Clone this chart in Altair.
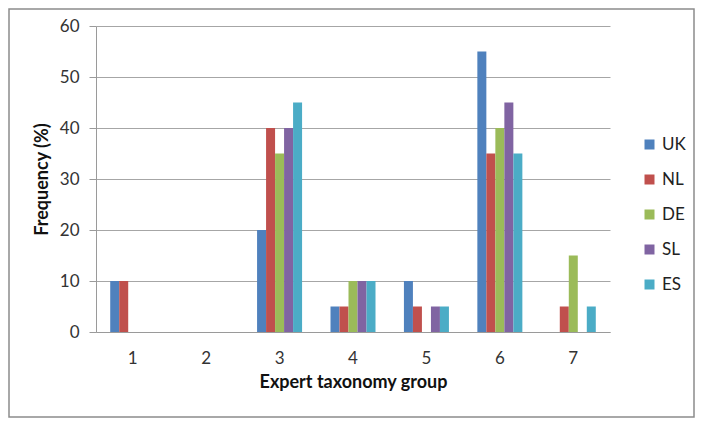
import altair as alt
import pandas as pd

groups = ["1", "2", "3", "4", "5", "6", "7"]
countries = ["UK", "NL", "DE", "SL", "ES"]
uk = [10, 0, 20, 5, 10, 55, 0]
nl = [10, 0, 40, 5, 5, 35, 5]
de = [0, 0, 35, 10, 0, 40, 15]
sl = [0, 0, 40, 10, 5, 45, 0]
es = [0, 0, 45, 10, 5, 35, 5]
colors = ["#4F81BD", "#C0504D", "#9BBB59", "#8064A2", "#4BACC6"]

series = {"UK": uk, "NL": nl, "DE": de, "SL": sl, "ES": es}
rows = []
for c in countries:
    for g, v in zip(groups, series[c]):
        rows.append({"group": g, "country": c, "value": v})
df = pd.DataFrame(rows)

FONT = "Lato"
W, H = 514, 306

bars = alt.Chart(df).mark_bar().encode(
    x=alt.X("group:N", sort=groups,
            scale=alt.Scale(paddingInner=0.387, paddingOuter=0.1935),
            axis=alt.Axis(title="Expert taxonomy group", labelAngle=0, ticks=False,
                          labelPadding=18, titlePadding=7, labelFontSize=17,
                          titleFontSize=18, domainColor="#9a9a9a", labelColor="#333333",
                          titleColor="#111111", grid=False)),
    xOffset=alt.XOffset("country:N", sort=countries, scale=alt.Scale(paddingInner=0, paddingOuter=0)),
    y=alt.Y("value:Q", scale=alt.Scale(domain=[0, 60], nice=False),
            axis=alt.Axis(title="Frequency (%)", values=[0, 10, 20, 30, 40, 50, 60],
                          tickSize=7, labelPadding=10, titlePadding=8, labelFontSize=17,
                          titleFontSize=18, domainColor="#9a9a9a", tickColor="#9a9a9a",
                          gridColor="#a6a6a6", labelColor="#333333", titleColor="#111111")),
    color=alt.Color("country:N", sort=countries,
                    scale=alt.Scale(domain=countries, range=colors),
                    legend=alt.Legend(title=None, orient="none", legendX=545, legendY=110,
                                      symbolType="square", symbolSize=100, symbolStrokeWidth=0,
                                      labelFontSize=17, rowPadding=17, labelOffset=4,
                                      labelColor="#222222")),
)

frame = alt.Chart(pd.DataFrame({"k": [0]})).mark_rect(
    fill=None, stroke="#8c8c8c", strokeWidth=1.5, clip=False
).encode(x=alt.value(-87), x2=alt.value(598), y=alt.value(-17), y2=alt.value(391))

chart = alt.layer(frame, bars).properties(
    width=W, height=H,
    autosize=alt.AutoSizeParams(type="none"),
    padding={"left": 88, "top": 18, "right": 85, "bottom": 86},
).configure(font=FONT).configure_view(stroke=None).configure_axis(
    labelFont=FONT, titleFont=FONT, titleFontWeight="bold"
).configure_legend(labelFont=FONT)

chart.save("out.html", embed_options={"renderer": "svg", "actions": False})
